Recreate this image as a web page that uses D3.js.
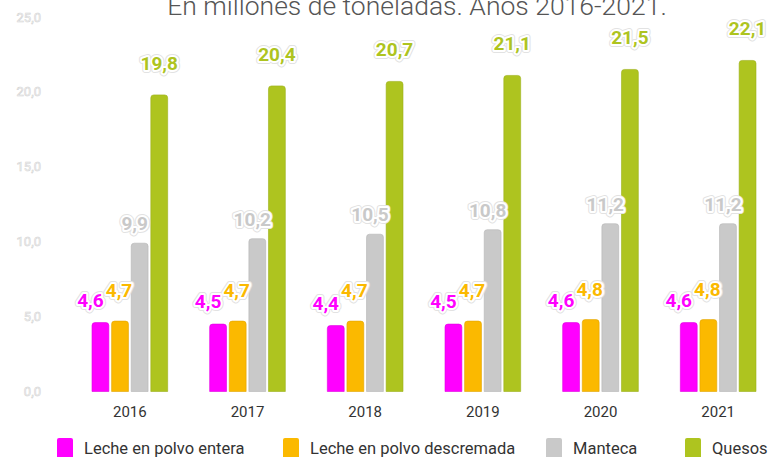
<!DOCTYPE html>
<html>
<head>
<meta charset="utf-8">
<script src="https://cdn.jsdelivr.net/npm/d3@7"></script>
<style>
  body { margin: 0; background: #fff; }
  svg { display: block; font-family: Roboto, "Noto Sans", sans-serif; }
</style>
</head>
<body>
<svg id="chart" width="768" height="457"></svg>
<script>
// data
var years = ["2016", "2017", "2018", "2019", "2020", "2021"];
var seriesNames = ["Leche en polvo entera", "Leche en polvo descremada", "Manteca", "Quesos"];
var lecheEntera = [4.6, 4.5, 4.4, 4.5, 4.6, 4.6];
var lecheDescremada = [4.7, 4.7, 4.7, 4.7, 4.8, 4.8];
var manteca = [9.9, 10.2, 10.5, 10.8, 11.2, 11.2];
var quesos = [19.8, 20.4, 20.7, 21.1, 21.5, 22.1];
var yTicks = [0, 5, 10, 15, 20, 25];
var titleText = "En millones de toneladas. Años 2016-2021.";

var seriesValues = [lecheEntera, lecheDescremada, manteca, quesos];
var colors = ["#ff00ff", "#fbb900", "#c9c9c9", "#aec41f"];
var strokes = ["#e000e0", "#e0a400", "#b5b5b5", "#9cb01a"];
// label nudges per series (dx, gap above bar)
var labelDx = [-10, -1, -5, 0];
var labelGap = [16, 24, 13, 25];
var legendX = [57, 283, 546, 685];

var svg = d3.select("#chart");

var x0 = d3.scaleBand().domain(years).range([71, 777]);
var x1 = d3.scaleBand().domain(d3.range(4)).range([21, x0.bandwidth() - 21]).paddingInner(0.14);
var y = d3.scaleLinear().domain([0, 25]).range([391.5, 17]);

var fmt = function(d) { return d3.format(".1f")(d).replace(".", ","); };

// title (cut at top, as in the reference)
svg.append("text")
  .attr("x", 417)
  .attr("y", 15)
  .attr("text-anchor", "middle")
  .style("font-size", "26.5px")
  .style("font-weight", 300)
  .style("fill", "#555")
  .text(titleText);

// y axis labels: white with grey outline
svg.append("g").selectAll("text")
  .data(yTicks)
  .enter().append("text")
  .attr("x", 41)
  .attr("y", function(d) { return y(d); })
  .attr("dy", "0.35em")
  .attr("text-anchor", "end")
  .style("font-size", "13px")
  .style("fill", "#fff")
  .style("stroke", "#d2d2d2")
  .style("stroke-width", 0.6)
  .text(fmt);

function roundTop(x, yTop, w, h, r) {
  r = Math.min(r, h);
  return "M" + x + "," + (yTop + h) +
    "V" + (yTop + r) +
    "Q" + x + "," + yTop + " " + (x + r) + "," + yTop +
    "H" + (x + w - r) +
    "Q" + (x + w) + "," + yTop + " " + (x + w) + "," + (yTop + r) +
    "V" + (yTop + h) + "Z";
}

var groups = svg.append("g").selectAll("g")
  .data(years)
  .enter().append("g")
  .attr("transform", function(d) { return "translate(" + x0(d) + ",0)"; });

seriesValues.forEach(function(vals, s) {
  groups.append("path")
    .attr("d", function(d, i) {
      var top = y(vals[i]);
      return roundTop(x1(s), top, x1.bandwidth(), y(0) - top, 3);
    })
    .style("fill", colors[s])
    .style("stroke", strokes[s])
    .style("stroke-width", 0.6);
});

// value labels: grey outline, white halo, coloured fill
var layers = [
  { fill: "none", stroke: "#e2e2e2", width: 6 },
  { fill: "none", stroke: "#fff", width: 4 },
  { fill: null, stroke: "none", width: 0 }
];
layers.forEach(function(layer) {
  seriesValues.forEach(function(vals, s) {
    groups.append("text")
      .attr("x", x1(s) + x1.bandwidth() / 2 + labelDx[s])
      .attr("y", function(d, i) { return y(vals[i]) - labelGap[s]; })
      .attr("text-anchor", "middle")
      .style("font-size", "19px")
      .style("font-weight", "bold")
      .style("fill", layer.fill || colors[s])
      .style("stroke", layer.stroke)
      .style("stroke-width", layer.width)
      .style("stroke-linejoin", "round")
      .text(function(d, i) { return fmt(vals[i]); });
  });
});

// x axis year labels
svg.append("g").selectAll("text")
  .data(years)
  .enter().append("text")
  .attr("x", function(d) { return x0(d) + x0.bandwidth() / 2; })
  .attr("y", 417)
  .attr("text-anchor", "middle")
  .style("font-size", "15px")
  .style("fill", "#333")
  .text(function(d) { return d; });

// legend
var leg = svg.append("g").selectAll("g")
  .data(seriesNames)
  .enter().append("g")
  .attr("transform", function(d, i) { return "translate(" + legendX[i] + ",0)"; });
leg.append("rect")
  .attr("x", 0).attr("y", 438)
  .attr("width", 16).attr("height", 22)
  .attr("rx", 2)
  .style("fill", function(d, i) { return colors[i]; });
leg.append("text")
  .attr("x", 27)
  .attr("y", 454)
  .style("font-size", "16.5px")
  .style("fill", "#333")
  .text(function(d) { return d; });
</script>
</body>
</html>
